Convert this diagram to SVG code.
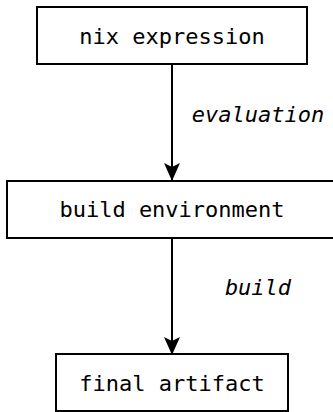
<svg xmlns="http://www.w3.org/2000/svg" width="333" height="412" viewBox="0 0 333 412">
<style>
.box{fill:#fff;stroke:#000;stroke-width:2}
.t{font-family:"DejaVu Sans Mono",monospace;font-size:22px;fill:#000;text-anchor:middle}
.lbl{font-family:"DejaVu Sans Mono",monospace;font-size:22px;font-style:italic;fill:#000;text-anchor:middle}
.edge{stroke:#000;stroke-width:2;fill:none}
</style>
<defs>
<marker id="ah" markerWidth="18" markerHeight="16" refX="17" refY="8" orient="auto" markerUnits="userSpaceOnUse" viewBox="0 0 18 16">
<path d="M0,0 L18,8 L0,16 L4,8 Z" fill="#000"/>
</marker>
</defs>
<rect width="333" height="412" fill="#fff"/>
<g id="connectors">
<line class="edge" x1="172" y1="64" x2="172" y2="180" marker-end="url(#ah)"/>
<text class="lbl" x="258" y="122">evaluation</text>
<line class="edge" x1="172" y1="239" x2="172" y2="354" marker-end="url(#ah)"/>
<text class="lbl" x="258" y="295">build</text>
</g>
<g id="nix-expression">
<rect class="box" x="37" y="7" width="270" height="57"/>
<text class="t" x="172" y="44">nix expression</text>
</g>
<g id="build-environment">
<rect class="box" x="7" y="181" width="331" height="57"/>
<text class="t" x="172" y="217">build environment</text>
</g>
<g id="final-artifact">
<rect class="box" x="56" y="354" width="232" height="57"/>
<text class="t" x="172" y="391">final artifact</text>
</g>
</svg>
